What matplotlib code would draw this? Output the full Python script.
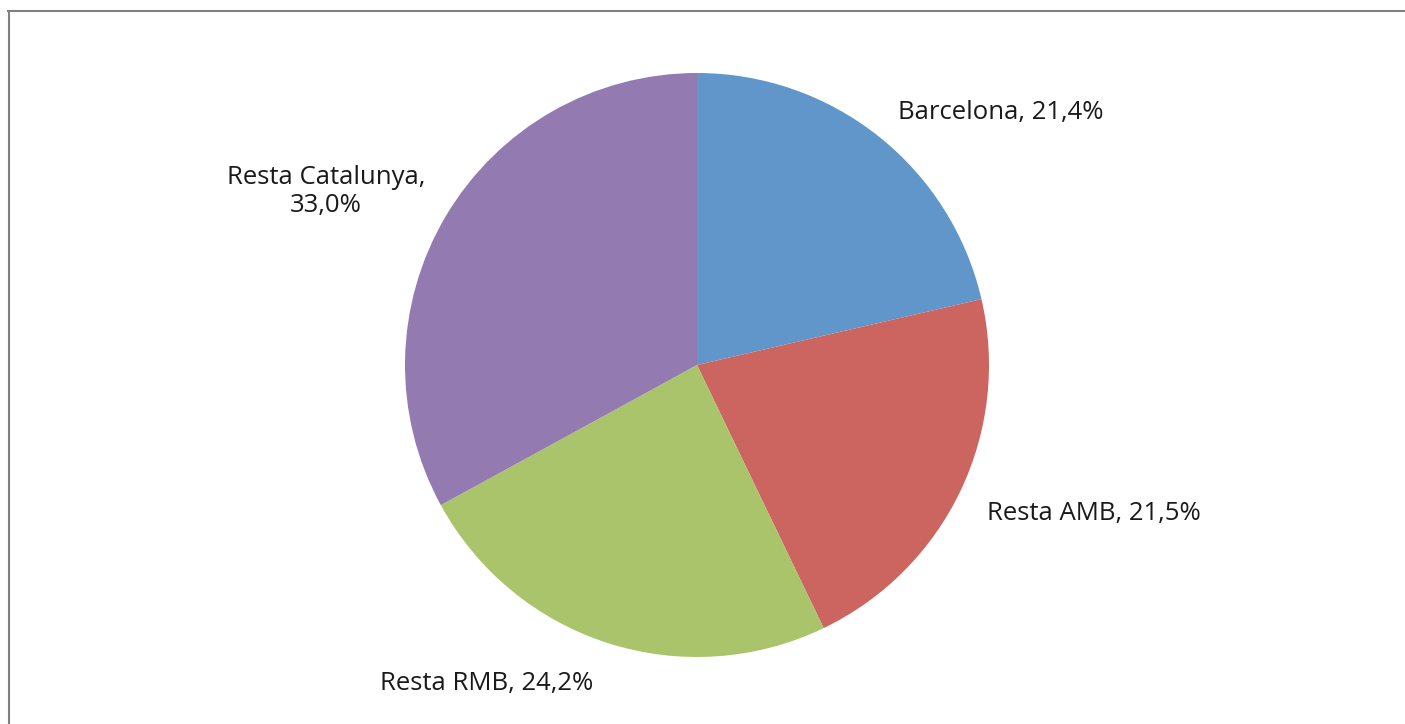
import numpy as np
import matplotlib.pyplot as plt
import matplotlib.lines as mlines

# data
names = ['Barcelona', 'Resta AMB', 'Resta RMB', 'Resta Catalunya']
shares = [21.4, 21.5, 24.2, 33.0]
share_text = ['21,4%', '21,5%', '24,2%', '33,0%']
colors = ['#6096C9', '#CC645F', '#AAC46C', '#937AB0']

W, H = 1405, 724
fig = plt.figure(figsize=(W / 100, H / 100), dpi=100)

# pie centre (697, 365) px, radius 292 px
cx, cy, r = 697, 365, 292
ax = fig.add_axes([(cx - r) / W, (H - cy - r) / H, 2 * r / W, 2 * r / H])
ax.pie(shares, colors=colors, startangle=90, counterclock=False,
       radius=1, wedgeprops=dict(linewidth=0))
ax.set_xlim(-1, 1)
ax.set_ylim(-1, 1)
ax.set_aspect('equal')
ax.axis('off')

# label placement (centre of text, in pie radius units)
label_pos = [(1.04, 0.865), (1.36, -0.51), (-0.72, -1.09), (-1.27, 0.595)]
for i in range(len(names)):
    if names[i] == 'Resta Catalunya':
        txt = names[i] + ',\n' + share_text[i]
    else:
        txt = names[i] + ', ' + share_text[i]
    ax.text(label_pos[i][0], label_pos[i][1], txt, ha='center', va='center',
            fontsize=18.5, family='Open Sans', color='#1a1a1a',
            linespacing=1.17, clip_on=False)

# frame lines (top and left only)
fig.add_artist(mlines.Line2D([8 / W, 1], [1 - 10.5 / H, 1 - 10.5 / H],
                             color='#808080', linewidth=1.5))
fig.add_artist(mlines.Line2D([8.5 / W, 8.5 / W], [0, 1 - 10.5 / H],
                             color='#808080', linewidth=1.5))

fig.savefig('out.png', dpi=100, facecolor='white')
